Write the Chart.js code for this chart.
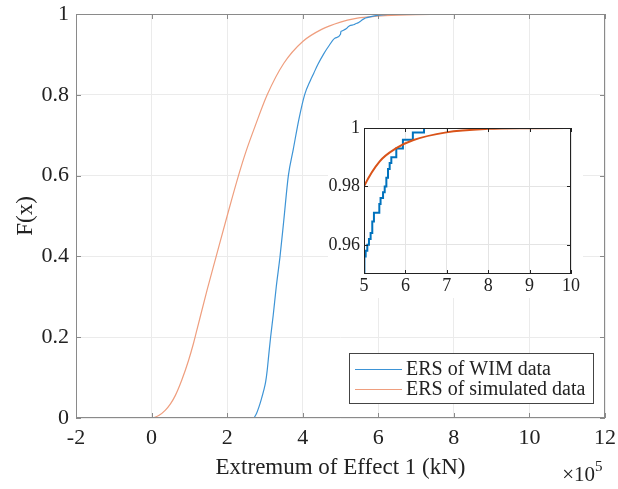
<!DOCTYPE html>
<html>
<head>
<meta charset="utf-8">
<script src="https://cdn.jsdelivr.net/npm/chart.js@4/dist/chart.umd.min.js"></script>
<style>
html, body { margin: 0; padding: 0; background: #fff; }
#wrap { position: relative; width: 618px; height: 489px; }
#main { position: absolute; left: 0; top: 0; }
#inset { position: absolute; left: 328px; top: 120px; background: #fff; }
</style>
</head>
<body>
<div id="wrap">
  <canvas id="main" width="618" height="489"></canvas>
  <canvas id="inset" width="255" height="178"></canvas>
</div>
<script>
// values in units of 1e5 kN
const wimX = [2.71, 2.78, 2.84, 2.90, 2.97, 3.02, 3.06, 3.10, 3.15, 3.22, 3.30, 3.40, 3.50, 3.62, 3.75, 3.90, 4.05, 4.20, 4.29, 4.40, 4.56, 4.70, 4.85,
              5.00, 5.01, 5.04, 5.08, 5.12, 5.16, 5.20, 5.24, 5.37, 5.40, 5.46, 5.50, 5.54, 5.58, 5.62, 5.66, 5.78, 5.94, 6.18, 6.45];
const wimF = [0, 0.012, 0.027, 0.045, 0.069, 0.09, 0.118, 0.155, 0.20, 0.255, 0.325, 0.40, 0.49, 0.60, 0.665, 0.74, 0.80, 0.835, 0.853, 0.875, 0.902, 0.922, 0.94,
              0.950, 0.956, 0.958, 0.960, 0.962, 0.964, 0.968, 0.971, 0.974, 0.976, 0.978, 0.980, 0.983, 0.986, 0.988, 0.990, 0.993, 0.996, 0.9985, 1.0];

const simX = [-1.27, -0.6, 0, 0.2, 0.36, 0.5, 0.63, 0.8, 0.98, 1.11, 1.2, 1.47, 1.71, 2.0, 2.3, 2.5, 2.75, 3.06, 3.5, 4.0, 4.5,
              5.0, 5.38, 5.78, 6.18, 6.99, 8.0, 9.0, 10.0, 11.2];
const simF = [0, 0, 0, 0.007, 0.019, 0.035, 0.056, 0.094, 0.143, 0.185, 0.218, 0.317, 0.40, 0.50, 0.60, 0.66, 0.725, 0.80, 0.878, 0.932, 0.962,
              0.980, 0.9886, 0.9931, 0.9958, 0.9985, 0.9997, 0.99995, 1.0, 1.0];

const seriesNames = ['ERS of WIM data', 'ERS of simulated data'];

const mainXTicks = [-2, 0, 2, 4, 6, 8, 10, 12];
const mainYTicks = [0, 0.2, 0.4, 0.6, 0.8, 1];
const insetXTicks = [5, 6, 7, 8, 9, 10];
const insetYTicks = [0.96, 0.98, 1];

const serif = "'Liberation Serif', 'Times New Roman', serif";
const pts = (xs, ys) => xs.map((x, i) => ({ x: x, y: ys[i] }));

// labels may hang over the edges, the plot box is set by layout padding only
const noPad = s => { s.paddingLeft = 0; s.paddingRight = 0; s.paddingTop = 0; s.paddingBottom = 0; };

// box round the plot area with inward tick marks, like matlab
const boxPlugin = {
  id: 'box',
  afterDatasetsDraw(chart, args, opts) {
    const { ctx, chartArea: a, scales: { x, y } } = chart;
    const len = opts.len || 5;
    ctx.save();
    ctx.strokeStyle = opts.color;
    ctx.lineWidth = 1;
    ctx.beginPath();
    x.ticks.forEach(t => {
      const px = Math.round(x.getPixelForValue(t.value)) + 0.5;
      ctx.moveTo(px, a.bottom); ctx.lineTo(px, a.bottom - len);
      ctx.moveTo(px, a.top); ctx.lineTo(px, a.top + len);
    });
    y.ticks.forEach(t => {
      const py = Math.round(y.getPixelForValue(t.value)) + 0.5;
      ctx.moveTo(a.left, py); ctx.lineTo(a.left + len, py);
      ctx.moveTo(a.right, py); ctx.lineTo(a.right - len, py);
    });
    ctx.stroke();
    ctx.strokeRect(Math.round(a.left) + 0.5, Math.round(a.top) + 0.5,
                   Math.round(a.right - a.left) - 1, Math.round(a.bottom - a.top) - 1);
    ctx.restore();
  }
};

// legend box in the lower right + the x10^5 exponent
const extrasPlugin = {
  id: 'extras',
  afterDraw(chart) {
    const { ctx, chartArea: a } = chart;
    ctx.save();
    ctx.font = '20px ' + serif;
    const w = Math.round(57 + Math.max(...seriesNames.map(n => ctx.measureText(n).width)) + 8);
    const h = 50;
    const left = Math.round(a.right - 12 - w), top = Math.round(a.bottom - 15 - h);
    ctx.fillStyle = '#fff';
    ctx.fillRect(left, top, w, h);
    ctx.strokeStyle = '#444';
    ctx.lineWidth = 1;
    ctx.strokeRect(left + 0.5, top + 0.5, w, h);
    chart.data.datasets.forEach((ds, i) => {
      const cy = top + 16 + i * 20;
      ctx.strokeStyle = ds.borderColor;
      ctx.lineWidth = 1.2;
      ctx.beginPath();
      ctx.moveTo(left + 6, cy + 0.5); ctx.lineTo(left + 53, cy + 0.5);
      ctx.stroke();
      ctx.fillStyle = '#222';
      ctx.textBaseline = 'middle';
      ctx.textAlign = 'left';
      ctx.fillText(ds.label, left + 57, cy + 1);
    });
    ctx.fillStyle = '#222';
    ctx.textBaseline = 'alphabetic';
    ctx.textAlign = 'right';
    ctx.font = '21px ' + serif;
    ctx.fillText('\u00d710', 595, 481);
    ctx.textAlign = 'left';
    ctx.font = '15px ' + serif;
    ctx.fillText('5', 595, 471);
    ctx.restore();
  }
};

new Chart(document.getElementById('main'), {
  type: 'line',
  data: {
    datasets: [
      { label: seriesNames[0], data: pts(wimX, wimF), borderColor: '#3d94d6', borderWidth: 1.2,
        pointRadius: 0, cubicInterpolationMode: 'monotone' },
      { label: seriesNames[1], data: pts(simX, simF), borderColor: '#ef9e7e', borderWidth: 1.2,
        pointRadius: 0, cubicInterpolationMode: 'monotone' }
    ]
  },
  options: {
    responsive: false,
    animation: false,
    layout: { padding: { left: 0, right: 13, top: 14, bottom: 0 } },
    plugins: { legend: { display: false }, tooltip: { enabled: false }, box: { color: '#8a8a8a', len: 5 } },
    scales: {
      x: {
        type: 'linear', min: -2, max: 12,
        afterBuildTicks: s => { s.ticks = mainXTicks.map(v => ({ value: v })); },
        afterFit: s => { s.height = 71; noPad(s); },
        grid: { color: '#ebebeb', drawTicks: false },
        border: { display: false },
        ticks: { font: { family: serif, size: 22 }, color: '#222', padding: 7, autoSkip: false, maxRotation: 0,
                 callback: v => String(v) },
        title: { display: true, text: 'Extremum of Effect 1 (kN)', font: { family: serif, size: 23 }, color: '#222',
                 padding: { top: 0, bottom: 7 } }
      },
      y: {
        type: 'linear', min: 0, max: 1,
        afterBuildTicks: s => { s.ticks = mainYTicks.map(v => ({ value: v })); },
        afterFit: s => { s.width = 76; noPad(s); },
        grid: { color: '#ebebeb', drawTicks: false },
        border: { display: false },
        ticks: { font: { family: serif, size: 22 }, color: '#222', padding: 7, callback: v => String(v) },
        title: { display: true, text: 'F(x)', font: { family: serif, size: 23 }, color: '#222',
                 padding: { top: 12, bottom: 0 } }
      }
    }
  },
  plugins: [boxPlugin, extrasPlugin]
});

new Chart(document.getElementById('inset'), {
  type: 'line',
  data: {
    datasets: [
      { label: seriesNames[0], data: pts(wimX, wimF), borderColor: '#0072bd', borderWidth: 2,
        pointRadius: 0, stepped: 'before', order: 1 },
      { label: seriesNames[1], data: pts(simX, simF), borderColor: '#d95319', borderWidth: 2,
        pointRadius: 0, cubicInterpolationMode: 'monotone', order: 0 }
    ]
  },
  options: {
    responsive: false,
    animation: false,
    layout: { padding: { left: 0, right: 12, top: 8, bottom: 0 } },
    plugins: { legend: { display: false }, tooltip: { enabled: false }, box: { color: '#222', len: 4 } },
    scales: {
      x: {
        type: 'linear', min: 5, max: 10,
        afterBuildTicks: s => { s.ticks = insetXTicks.map(v => ({ value: v })); },
        afterFit: s => { s.height = 24; noPad(s); },
        grid: { color: '#e4e4e4', drawTicks: false },
        border: { display: false },
        ticks: { font: { family: serif, size: 18 }, color: '#222', padding: 1, autoSkip: false, maxRotation: 0 }
      },
      y: {
        type: 'linear', min: 0.95, max: 1,
        afterBuildTicks: s => { s.ticks = insetYTicks.map(v => ({ value: v })); },
        afterFit: s => { s.width = 36; noPad(s); },
        grid: { color: '#e4e4e4', drawTicks: false },
        border: { display: false },
        ticks: { font: { family: serif, size: 18 }, color: '#222', padding: 4, callback: v => String(v) }
      }
    }
  },
  plugins: [boxPlugin]
});
</script>
</body>
</html>
